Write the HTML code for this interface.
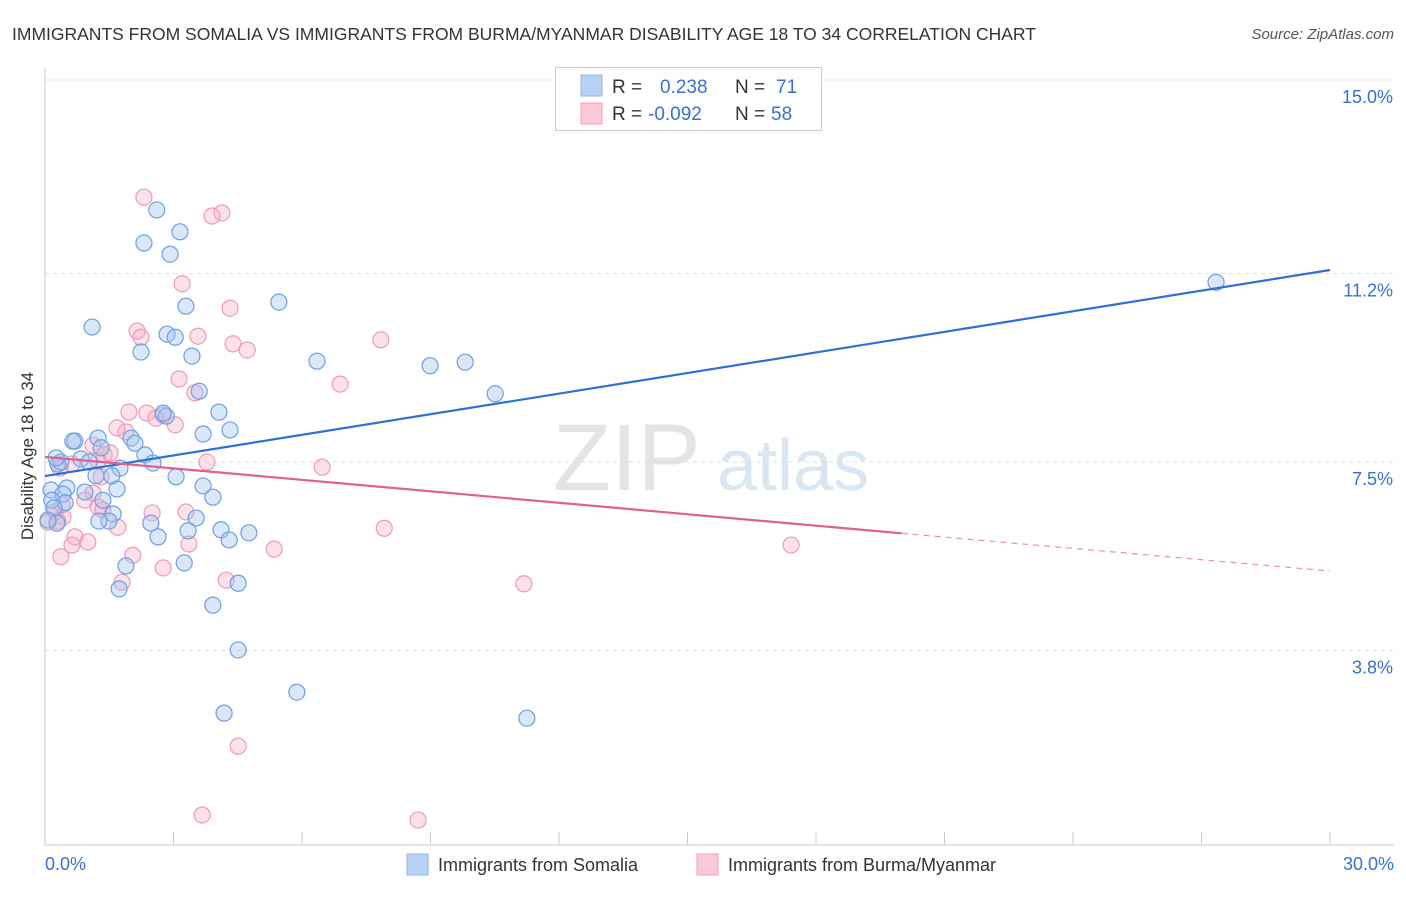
<!DOCTYPE html>
<html><head><meta charset="utf-8"><style>
body{margin:0;background:#fff;font-family:"Liberation Sans",sans-serif;}
svg text{font-family:"Liberation Sans",sans-serif;}
</style></head><body>
<svg id="chart" width="1406" height="892" xmlns="http://www.w3.org/2000/svg">
<text x="12" y="40" font-size="17.5" fill="#333">IMMIGRANTS FROM SOMALIA VS IMMIGRANTS FROM BURMA/MYANMAR DISABILITY AGE 18 TO 34 CORRELATION CHART</text>
<text x="1394" y="39" font-size="15" fill="#555" text-anchor="end" font-style="italic">Source: ZipAtlas.com</text>
<text x="553" y="490" font-size="95" fill="#e4e4e4" font-family="Liberation Serif">ZIP</text>
<text x="717" y="490" font-size="72" fill="#dbe6f4">atlas</text>
<text transform="translate(33,456) rotate(-90)" font-size="17" fill="#333" text-anchor="middle">Disability Age 18 to 34</text>
<g id="grid"></g>
<g id="lines"></g>
<g id="pts"></g>
<g>
<rect x="555.5" y="67.5" width="266" height="63" fill="#fff" stroke="#ccc"/>
<rect x="581" y="75" width="21" height="21" fill="#b8d2f4" stroke="#8fb4e6"/>
<rect x="581" y="103" width="21" height="21" fill="#fac8d8" stroke="#ef9fbb"/>
<text x="612" y="93" font-size="19" fill="#333">R = </text><text x="660" y="93" font-size="19" fill="#3a6fd0">0.238</text>
<text x="735" y="93" font-size="19" fill="#333">N = </text><text x="776" y="93" font-size="19" fill="#3a6fd0">71</text>
<text x="612" y="120" font-size="19" fill="#333">R = </text><text x="648" y="120" font-size="19" fill="#3a6fd0">-0.092</text>
<text x="735" y="120" font-size="19" fill="#333">N = </text><text x="771" y="120" font-size="19" fill="#3a6fd0">58</text>
</g>
<g>
<rect x="407" y="854" width="21" height="21" fill="#b8d2f4" stroke="#8fb4e6"/>
<text x="438" y="871" font-size="18" fill="#333">Immigrants from Somalia</text>
<rect x="697" y="854" width="21" height="21" fill="#fac8d8" stroke="#ef9fbb"/>
<text x="728" y="871" font-size="18" fill="#333">Immigrants from Burma/Myanmar</text>
</g>
</svg>
<script>
const yTicks=[3.8,7.5,11.2,15.0];
const yTickLabels=["3.8%","7.5%","11.2%","15.0%"];
const xTickLabels=["0.0%","30.0%"];
const somaliaX=[27.34,2.61,2.31,3.15,2.92,1.10,3.29,5.46,2.85,3.04,2.24,3.43,6.35,8.99,9.81,10.51,3.60,4.06,2.83,2.76,4.32,3.69,2.01,2.10,1.24,0.70,0.65,2.33,2.52,1.75,0.84,0.30,0.37,0.26,1.03,1.31,1.19,0.51,1.68,0.14,0.93,0.42,3.69,3.92,1.35,0.47,0.16,0.21,1.59,1.49,2.47,3.53,3.34,4.11,4.76,4.30,2.64,1.89,3.25,4.51,1.73,3.92,4.51,5.88,4.18,11.25,3.06,0.28,0.07,1.26,1.56];
const somaliaY=[11.03,12.45,11.80,12.02,11.58,10.15,10.56,10.64,10.01,9.95,9.66,9.58,9.48,9.39,9.46,8.84,8.89,8.48,8.40,8.46,8.13,8.05,7.97,7.87,7.97,7.91,7.91,7.64,7.48,7.38,7.56,7.46,7.50,7.58,7.50,7.78,7.23,6.99,6.97,6.95,6.91,6.87,7.03,6.81,6.75,6.70,6.75,6.60,6.48,6.34,6.30,6.40,6.15,6.17,6.11,5.97,6.03,5.46,5.52,5.12,5.01,4.69,3.81,2.98,2.57,2.47,7.21,6.30,6.36,6.34,7.23];
const burmaX=[2.31,4.13,3.90,3.20,4.32,2.15,2.24,3.57,4.39,4.72,7.84,3.13,6.89,1.96,2.76,2.38,2.59,3.04,3.50,1.12,1.68,1.89,1.38,1.52,3.78,6.47,1.31,0.63,0.35,0.93,1.24,0.42,0.23,0.30,0.07,2.50,3.29,1.70,7.92,0.70,1.00,0.63,0.37,2.05,3.36,5.35,2.76,1.80,4.23,17.42,11.18,4.51,3.67,8.71,1.12,0.40,1.35,1.24];
const burmaY=[12.70,12.39,12.33,11.00,10.52,10.07,9.95,9.97,9.82,9.70,9.90,9.13,9.03,8.48,8.42,8.46,8.36,8.23,8.86,7.83,8.17,8.09,7.64,7.68,7.50,7.40,7.21,7.46,7.38,6.75,6.62,6.42,6.52,6.34,6.32,6.50,6.52,6.22,6.20,6.03,5.93,5.87,5.64,5.67,5.89,5.79,5.42,5.14,5.18,5.87,5.11,1.92,0.57,0.47,6.89,6.66,6.56,7.52];
const somaliaTrend=[7.225,11.27];
const burmaTrend=[7.6,6.1,5.36];
const burmaSolidEnd=20.0;
const NS="http://www.w3.org/2000/svg";
const X=v=>45+v*(1285/30);
const Y=v=>844-v*50.93;
function mk(tag,attrs,parent){const e=document.createElementNS(NS,tag);for(const k in attrs)e.setAttribute(k,attrs[k]);parent.appendChild(e);return e;}
const grid=document.getElementById('grid');
yTicks.forEach((t,i)=>{
 const l=mk('line',{x1:45,x2:1394,y1:Y(t),y2:Y(t),stroke:'#ddd','stroke-dasharray':'4,4'},grid);
 
 
 const tx=mk('text',{x:1393,y:Y(t)+23,'font-size':18,fill:'#3a6fd0','text-anchor':'end'},grid);
 tx.textContent=yTickLabels[i];
 
 
});
const ax=mk('line',{x1:45,x2:1394,y1:845,y2:845,stroke:'#ccc'},grid);


const ay=mk('line',{x1:45,x2:45,y1:68,y2:845,stroke:'#ccc'},grid);


for(let i=0;i<=10;i++){
 const t=mk('line',{x1:X(i*3),x2:X(i*3),y1:832,y2:845,stroke:'#ccc'},grid);
 
 
}
[[0,'start',45],[30,'end',1394]].forEach((p,i)=>{
 const tx=mk('text',{x:p[2],y:870,'font-size':18,fill:'#3a6fd0','text-anchor':p[1]},grid);
 tx.textContent=xTickLabels[i];
 
 
});
const pts=document.getElementById('pts');
burmaX.forEach((x,i)=>{
 const c=mk('circle',{cx:X(x),cy:Y(burmaY[i]),r:8,fill:'rgba(245,170,195,0.35)',stroke:'#ec9ab8','stroke-width':1.2},pts);
 
 
});
somaliaX.forEach((x,i)=>{
 const c=mk('circle',{cx:X(x),cy:Y(somaliaY[i]),r:8,fill:'rgba(160,195,240,0.4)',stroke:'#6f9fe0','stroke-width':1.2},pts);
 
 
});
const lines=document.getElementById('lines');
const bl=mk('line',{x1:X(0),y1:Y(somaliaTrend[0]),x2:X(30),y2:Y(somaliaTrend[1]),stroke:'#2f6fd6','stroke-width':2.2},pts);


const pl=mk('line',{x1:X(0),y1:Y(burmaTrend[0]),x2:X(burmaSolidEnd),y2:Y(burmaTrend[1]),stroke:'#e0608f','stroke-width':2.2},pts);


const pd=mk('line',{x1:X(burmaSolidEnd),y1:Y(burmaTrend[1]),x2:X(30),y2:Y(burmaTrend[2]),stroke:'#e890b0','stroke-width':1.2,'stroke-dasharray':'6,5'},pts);


</script>
</body></html>
